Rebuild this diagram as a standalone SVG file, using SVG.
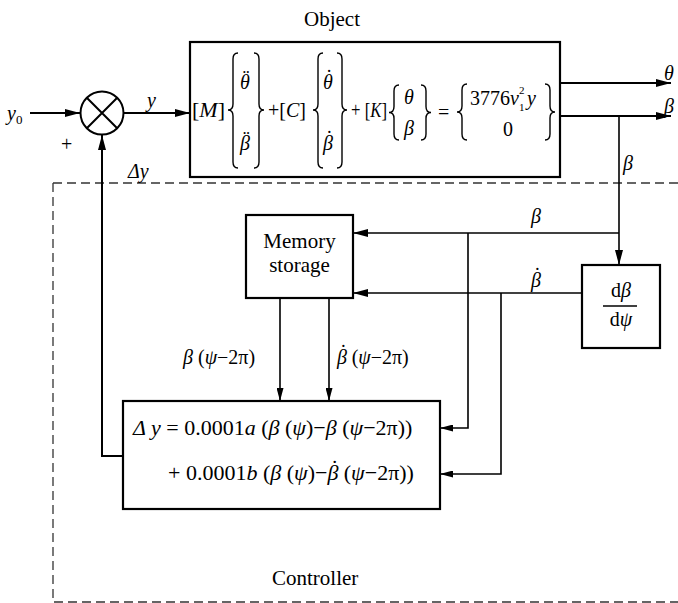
<svg xmlns="http://www.w3.org/2000/svg" width="678" height="603" viewBox="0 0 678 603">
<style>
text{font-family:"Liberation Serif","Times New Roman",serif;font-size:20px;fill:#000}
.i{font-style:italic}
.big{font-size:21px}
.eq{font-size:22px}
.box{fill:#fff;stroke:#000;stroke-width:2.2}
.ln{fill:none;stroke:#000;stroke-width:1.6}
.th{fill:none;stroke:#000;stroke-width:2}
.br{fill:none;stroke:#000;stroke-width:1.4}
.dash{fill:none;stroke:#333;stroke-width:1.3;stroke-dasharray:9 5}
</style>
<defs>
<marker id="ah" viewBox="0 0 15 8" refX="15" refY="4" markerWidth="15" markerHeight="8" markerUnits="userSpaceOnUse" orient="auto"><path d="M0,0 L15,4 L0,8 z" fill="#000"/></marker>
<marker id="as" viewBox="0 0 13 7" refX="13" refY="3.5" markerWidth="13" markerHeight="7" markerUnits="userSpaceOnUse" orient="auto"><path d="M0,0 L13,3.5 L0,7 z" fill="#000"/></marker>
</defs>
<rect width="678" height="603" fill="#fff"/>

<g id="controller-region">
<path class="dash" d="M53,183 L690,183 M53,183 L53,602 L690,602"/>
<text x="272" y="585" class="big">Controller</text>
</g>

<g id="connectors">
<line class="th" x1="30" y1="113" x2="80" y2="113" marker-end="url(#ah)"/>
<line class="th" x1="123" y1="113" x2="190" y2="113" marker-end="url(#ah)"/>
<line class="th" x1="560" y1="83" x2="671" y2="83" marker-end="url(#ah)"/>
<line class="th" x1="560" y1="116" x2="671" y2="116" marker-end="url(#ah)"/>
<line class="ln" x1="619" y1="116" x2="619" y2="265" marker-end="url(#ah)"/>
<line class="ln" x1="619" y1="233" x2="353" y2="233" marker-end="url(#ah)"/>
<line class="ln" x1="582" y1="293" x2="353" y2="293" marker-end="url(#ah)"/>
<polyline class="ln" points="468,233 468,428 440,428" marker-end="url(#as)"/>
<polyline class="ln" points="501,293 501,474 440,474" marker-end="url(#as)"/>
<line class="ln" x1="280" y1="298" x2="280" y2="401" marker-end="url(#as)"/>
<line class="ln" x1="329" y1="298" x2="329" y2="401" marker-end="url(#as)"/>
<polyline class="th" points="123,456 102,456 102,135" marker-end="url(#ah)"/>
<text x="7" y="120" class="i">y<tspan font-size="13" dy="4" font-style="normal" style="font-size:13px">0</tspan></text>
<text x="61" y="151">+</text>
<text x="147" y="107" class="i">y</text>
<text x="128" y="178" class="i">Δy</text>
<text x="664" y="80" class="i">θ</text>
<text x="664" y="113" class="i">β</text>
<text x="623" y="170" class="i">β</text>
<text x="531" y="223" class="i">β</text>
<text x="531" y="287"><tspan class="i">β</tspan><tspan dx="-7" dy="-5">˙</tspan></text>
<text x="183" y="364"><tspan class="i">β</tspan> (<tspan class="i">ψ</tspan>−2π)</text>
<text x="337" y="364"><tspan class="i">β</tspan><tspan dx="-7" dy="-5">˙</tspan><tspan dy="5"> (</tspan><tspan class="i">ψ</tspan>−2π)</text>
</g>

<g id="sum">
<circle cx="102" cy="113" r="21.5" class="th"/>
<path class="th" d="M86.8,97.8 L117.2,128.2 M117.2,97.8 L86.8,128.2"/>
</g>

<g id="object">
<text x="304" y="26" class="big">Object</text>
<rect class="box" x="190" y="42" width="370" height="135"/>
<text x="192" y="117" textLength="33" lengthAdjust="spacingAndGlyphs">[<tspan class="i">M</tspan>]</text>
<path class="br" d="M238,53 Q233,53 233,59 L233,104 Q233,110 228,110 Q233,110 233,116 L233,162 Q233,168 238,168"/>
<path class="br" d="M254,53 Q259,53 259,59 L259,104 Q259,110 264,110 Q259,110 259,116 L259,162 Q259,168 254,168"/>
<text x="240" y="89"><tspan class="i">θ</tspan><tspan dx="-7" dy="-5">¨</tspan></text>
<text x="240" y="150"><tspan class="i">β</tspan><tspan dx="-7" dy="-5">¨</tspan></text>
<text x="268" y="117">+[<tspan class="i">C</tspan>]</text>
<path class="br" d="M323,53 Q318,53 318,59 L318,104 Q318,110 313,110 Q318,110 318,116 L318,162 Q318,168 323,168"/>
<path class="br" d="M337,53 Q342,53 342,59 L342,104 Q342,110 347,110 Q342,110 342,116 L342,162 Q342,168 337,168"/>
<text x="323" y="89"><tspan class="i">θ</tspan><tspan dx="-7" dy="-5">˙</tspan></text>
<text x="323" y="150"><tspan class="i">β</tspan><tspan dx="-7" dy="-5">˙</tspan></text>
<text x="351" y="117" textLength="36" lengthAdjust="spacingAndGlyphs">+ [<tspan class="i">K</tspan>]</text>
<path class="br" d="M399,85 Q394,85 394,91 L394,106.5 Q394,112.5 389,112.5 Q394,112.5 394,118.5 L394,134 Q394,140 399,140"/>
<path class="br" d="M421,85 Q426,85 426,91 L426,106.5 Q426,112.5 431,112.5 Q426,112.5 426,118.5 L426,134 Q426,140 421,140"/>
<text x="404" y="104" class="i">θ</text>
<text x="404" y="135" class="i">β</text>
<text x="438" y="119">=</text>
<path class="br" d="M467,84 Q462,84 462,90 L462,106 Q462,112 457,112 Q462,112 462,118 L462,134 Q462,140 467,140"/>
<path class="br" d="M545,84 Q550,84 550,90 L550,106 Q550,112 555,112 Q550,112 550,118 L550,134 Q550,140 545,140"/>
<text x="470" y="105">3776<tspan class="i">v</tspan></text>
<text x="519" y="94" style="font-size:11px">2</text>
<text x="519" y="111" style="font-size:11px">1</text>
<text x="527" y="105" class="i">y</text>
<text x="503" y="136">0</text>
</g>

<g id="memory">
<rect class="box" x="246" y="215" width="107" height="83"/>
<text x="299.5" y="248" text-anchor="middle" class="big">Memory</text>
<text x="299.5" y="272" text-anchor="middle" class="big">storage</text>
</g>

<g id="derivative">
<rect class="box" x="582" y="265" width="78" height="83"/>
<text x="621" y="297" text-anchor="middle">d<tspan class="i">β</tspan></text>
<line x1="603" y1="306" x2="637" y2="306" stroke="#000" stroke-width="1.4"/>
<text x="621" y="326" text-anchor="middle">d<tspan class="i">ψ</tspan></text>
</g>

<g id="law">
<rect class="box" x="123" y="401" width="317" height="108"/>
<text x="133" y="435" class="eq"><tspan class="i">Δ y</tspan> = 0.0001<tspan class="i">a</tspan> (<tspan class="i">β</tspan> (<tspan class="i">ψ</tspan>)−<tspan class="i">β</tspan> (<tspan class="i">ψ</tspan>−2π))</text>
<text x="168" y="480" class="eq">+ 0.0001<tspan class="i">b</tspan> (<tspan class="i">β</tspan> (<tspan class="i">ψ</tspan>)−<tspan class="i">β</tspan><tspan dx="-7.5" dy="-5">˙</tspan><tspan dy="5"> (</tspan><tspan class="i">ψ</tspan>−2π))</text>
</g>
</svg>
